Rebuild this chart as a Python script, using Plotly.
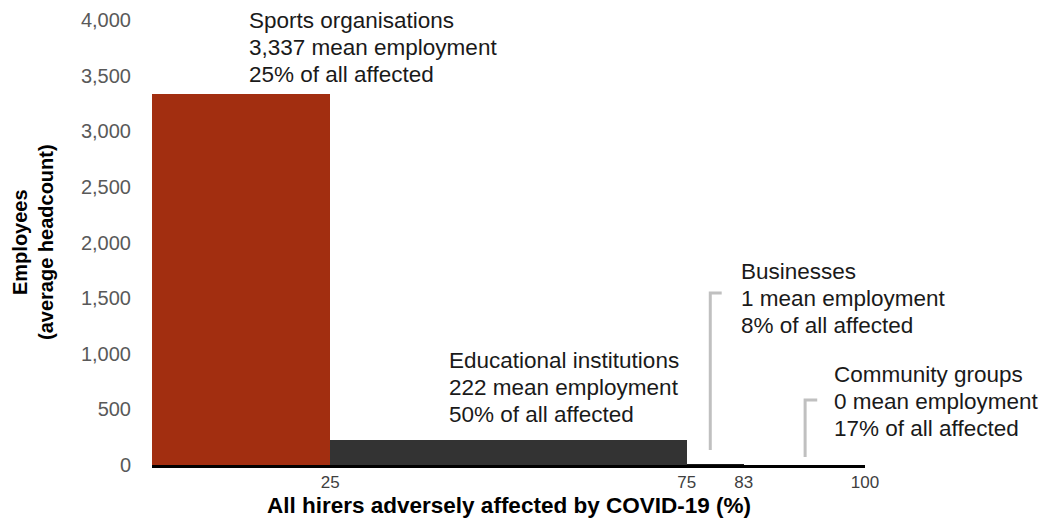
import plotly.graph_objects as go

categories = ["Sports organisations", "Educational institutions", "Businesses", "Community groups"]
share_pct = [25, 50, 8, 17]
mean_employment = [3337, 222, 1, 0]
bar_colors = ["#A22E10", "#333333", "#1a1a1a", "#000000"]
x_tick_vals = [25, 75, 83, 100]
y_tick_vals = [0, 500, 1000, 1500, 2000, 2500, 3000, 3500, 4000]
x_title = "All hirers adversely affected by COVID-19 (%)"
y_title = "Employees<br>(average headcount)"

# cumulative positions of variable-width bars
lefts = []
acc = 0
for w in share_pct:
    lefts.append(acc)
    acc += w
mids = [l + w / 2 for l, w in zip(lefts, share_pct)]

fig = go.Figure()
fig.add_trace(go.Bar(
    x=mids, y=mean_employment, width=share_pct,
    marker=dict(color=bar_colors, line=dict(width=0)),
    hovertext=categories, showlegend=False,
))

FONT = "Liberation Sans, Arial, sans-serif"

# label annotations: (x, y) anchors (middle line) in data space for each category
label_pos = [(13.3, 3757), (41.4, 701), (82.3, 1501), (95.4, 575)]
LINE_GAP = 27
for cat, m, s, (ax, ay) in zip(categories, mean_employment, share_pct, label_pos):
    lines = [cat, f"{m:,} mean employment", f"{s}% of all affected"]
    for i, line in enumerate(lines):
        fig.add_annotation(
            x=ax, y=ay, xref="x", yref="y", xanchor="left", yanchor="middle",
            yshift=(1 - i) * LINE_GAP,
            text=line, showarrow=False, align="left",
            font=dict(family=FONT, size=22.5, color="#1a1a1a"),
        )

# axis titles as annotations for precise placement
fig.add_annotation(
    x=0.5, y=-0.0899, xref="paper", yref="paper", xanchor="center", yanchor="middle",
    text=f"<b>{x_title}</b>", showarrow=False,
    font=dict(family=FONT, size=22.5, color="#000000"),
)
fig.add_annotation(
    x=-0.1676, y=0.5, xref="paper", yref="paper", xanchor="center", yanchor="middle",
    text=f"<b>{y_title}</b>", showarrow=False, textangle=-90,
    font=dict(family=FONT, size=20, color="#000000"),
)

# leader lines
leaders = [
    [(79.9, 1546), (78.3, 1546), (78.3, 135)],
    [(93.3, 584), (91.6, 584), (91.6, 72)],
]
for pts in leaders:
    path = "M " + " L ".join(f"{x},{y}" for x, y in pts)
    fig.add_shape(type="path", path=path, xref="x", yref="y",
                  line=dict(color="#c0c0c0", width=3))

fig.update_layout(
    width=1040, height=523,
    margin=dict(l=152, r=175, t=20, b=58),
    plot_bgcolor="white", paper_bgcolor="white",
    bargap=0,
    font=dict(family=FONT),
)
fig.update_xaxes(
    range=[0, 100], tickmode="array", tickvals=x_tick_vals,
    ticktext=[str(v) for v in x_tick_vals],
    showgrid=False, zeroline=False, automargin=False,
    showline=True, linecolor="#000000", linewidth=2.5,
    ticks="", tickfont=dict(family=FONT, size=17, color="#404040"),
)
fig.update_yaxes(
    range=[0, 4000], tickmode="array", tickvals=y_tick_vals,
    ticktext=[f"{v:,}" for v in y_tick_vals],
    showgrid=False, zeroline=False, showline=False, automargin=False,
    ticks="", ticklabelstandoff=20,
    tickfont=dict(family=FONT, size=20, color="#595959"),
)

fig.write_html(
    "out.html",
    config={"displayModeBar": False},
    post_script="document.body.style.margin='0';document.body.style.overflow='hidden';",
)
